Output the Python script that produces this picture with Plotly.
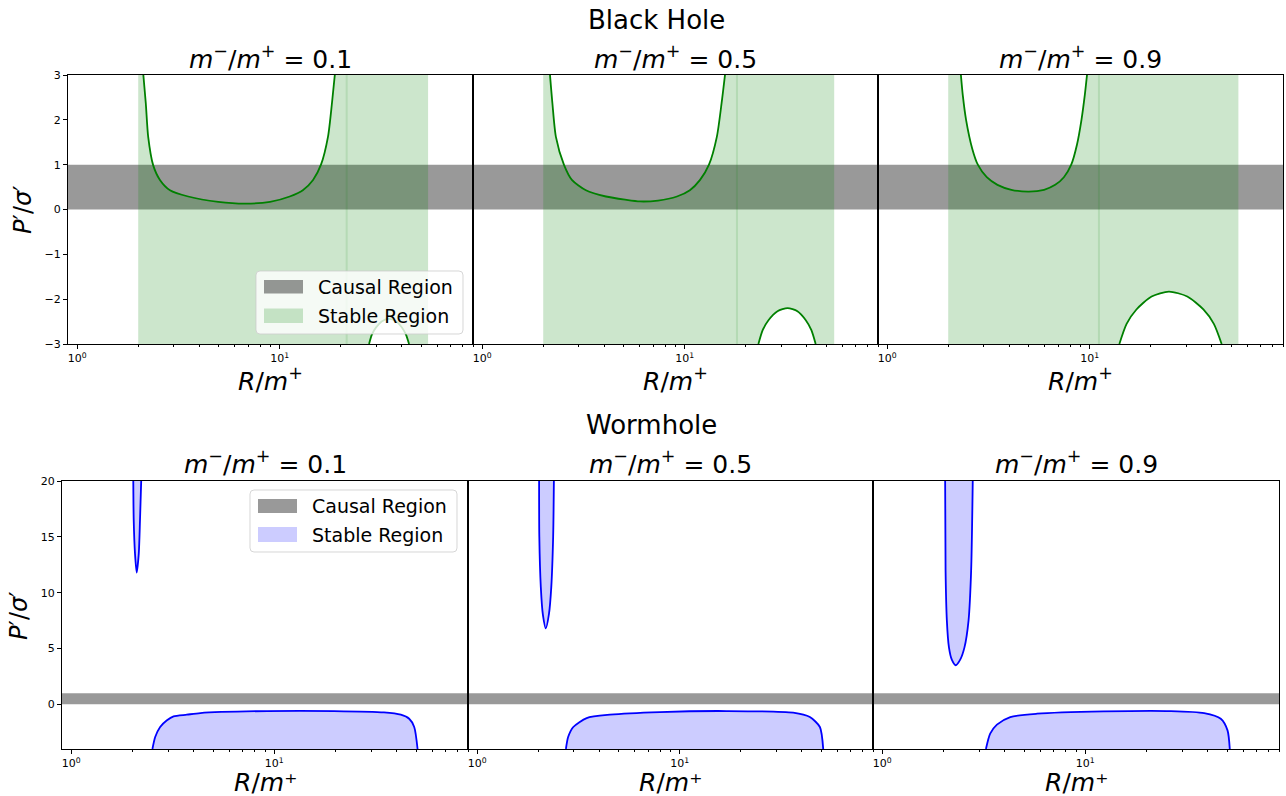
import math
import plotly.graph_objects as go
from plotly.subplots import make_subplots

W, H = 1286, 796
FONT = "DejaVu Sans"

# ---------------- data ----------------
RATIO_LABELS = ["0.1", "0.5", "0.9"]
R_RANGE = [0.9, 90.0]
BH_P_RANGE = [-3.0, 3.0]
WH_P_RANGE = [-4.0, 20.0]
CAUSAL_BAND = [0.0, 1.0]

MAJOR_TICKS = [1, 10]
MAJOR_TICKTEXT = ["10<sup>0</sup>", "10<sup>1</sup>"]
MINOR_TICKS = [2, 3, 4, 5, 6, 7, 8, 9, 20, 30, 40, 50, 60, 70, 80, 90]
BH_P_TICKS = [-3, -2, -1, 0, 1, 2, 3]
BH_P_TICKTEXT = ["\u22123", "\u22122", "\u22121", "0", "1", "2", "3"]
WH_P_TICKS = [0, 5, 10, 15, 20]
WH_P_TICKTEXT = ["0", "5", "10", "15", "20"]

# Black hole: upper (U-shaped) branch
bh01_upper_R = [2.12, 2.18, 2.24, 2.37, 2.56, 2.87, 3.53, 4.97, 6.73, 8.95, 11.2, 13.0, 14.6, 15.98, 17.3, 18.1, 18.7]
bh01_upper_P = [3.0, 2.37, 1.62, 0.99, 0.66, 0.43, 0.29, 0.17, 0.13, 0.17, 0.29, 0.43, 0.66, 1.0, 1.62, 2.37, 3.0]
bh05_upper_R = [2.16, 2.22, 2.31, 2.53, 2.77, 3.25, 4.08, 5.07, 6.01, 7.38, 9.15, 10.6, 11.9, 13.17, 14.4, 15.2, 15.8]
bh05_upper_P = [3.0, 2.37, 1.62, 1.0, 0.66, 0.43, 0.29, 0.22, 0.18, 0.20, 0.29, 0.43, 0.66, 1.0, 1.62, 2.37, 3.0]
bh09_upper_R = [2.31, 2.36, 2.45, 2.63, 2.80, 3.10, 3.50, 4.10, 5.00, 5.95, 6.75, 7.45, 8.10, 8.65, 9.10, 9.45, 9.69]
bh09_upper_P = [3.0, 2.55, 2.0, 1.35, 1.0, 0.72, 0.55, 0.44, 0.40, 0.44, 0.55, 0.72, 1.0, 1.45, 2.0, 2.55, 3.0]

# Black hole: lower (arch) branch
bh01_lower_R = [27.6, 28.5, 29.9, 32.0, 34.6, 37.5, 40.1, 42.0, 43.5]
bh01_lower_P = [-3.0, -2.79, -2.63, -2.49, -2.44, -2.49, -2.63, -2.79, -3.0]
bh05_lower_R = [23.1, 24.25, 25.9, 28.7, 32.2, 36.0, 39.6, 42.2, 44.3]
bh05_lower_P = [-3.0, -2.69, -2.47, -2.27, -2.20, -2.27, -2.47, -2.69, -3.0]
bh09_lower_R = [14.0, 15.2, 17.0, 20.2, 24.6, 30.3, 36.4, 41.0, 44.8]
bh09_lower_P = [-3.0, -2.55, -2.23, -1.94, -1.83, -1.94, -2.23, -2.55, -3.0]

# Black hole stable region bounds
bh_stable_start = [2.0, 2.0, 2.0]
bh_asymptote = [21.4, 18.1, 11.1]
bh_stable_end = [54.0, 54.7, 54.2]

# Wormhole: narrow spike branch
wh01_spike_R = [2.02, 2.03, 2.06, 2.10, 2.15, 2.18, 2.21]
wh01_spike_P = [20.0, 16.5, 13.5, 11.8, 13.5, 16.5, 20.0]
wh05_spike_R = [2.02, 2.025, 2.06, 2.11, 2.18, 2.26, 2.32, 2.37, 2.39]
wh05_spike_P = [20.0, 15.0, 10.5, 8.0, 6.8, 8.1, 10.5, 15.0, 20.0]
wh09_spike_R = [2.04, 2.05, 2.08, 2.13, 2.20, 2.30, 2.42, 2.54, 2.66, 2.74, 2.79]
wh09_spike_P = [20.0, 12.0, 7.5, 5.1, 4.0, 3.5, 4.0, 5.1, 7.5, 12.0, 20.0]

# Wormhole: plateau branch
wh01_plateau_R = [2.51, 2.59, 2.74, 2.96, 3.19, 3.71, 4.32, 9.23, 19.7, 34.7, 42.0, 46.2, 48.9, 50.8]
wh01_plateau_P = [-4.0, -2.93, -2.03, -1.43, -1.08, -0.93, -0.78, -0.60, -0.60, -0.72, -0.93, -1.29, -2.03, -4.0]
wh05_plateau_R = [2.74, 2.81, 2.98, 3.47, 4.52, 7.98, 17.0, 36.3, 43.9, 49.2, 51.1]
wh05_plateau_P = [-4.0, -2.93, -2.03, -1.23, -0.93, -0.69, -0.60, -0.75, -1.14, -2.03, -4.0]
wh09_plateau_R = [3.24, 3.40, 3.67, 4.27, 5.78, 12.3, 26.4, 38.5, 46.5, 50.2, 51.5]
wh09_plateau_P = [-4.0, -2.63, -1.82, -1.14, -0.84, -0.63, -0.60, -0.78, -1.29, -2.33, -4.0]

bh_upper = [(bh01_upper_R, bh01_upper_P), (bh05_upper_R, bh05_upper_P), (bh09_upper_R, bh09_upper_P)]
bh_lower = [(bh01_lower_R, bh01_lower_P), (bh05_lower_R, bh05_lower_P), (bh09_lower_R, bh09_lower_P)]
wh_spike = [(wh01_spike_R, wh01_spike_P), (wh05_spike_R, wh05_spike_P), (wh09_spike_R, wh09_spike_P)]
wh_plateau = [(wh01_plateau_R, wh01_plateau_P), (wh05_plateau_R, wh05_plateau_P), (wh09_plateau_R, wh09_plateau_P)]

# ---------------- style ----------------
CAUSAL_COLOR = "rgba(0,0,0,0.4)"
GREEN_FILL = "rgba(0,128,0,0.2)"
GREEN_LINE = "#008000"
BLUE_FILL = "rgba(0,0,255,0.2)"
BLUE_LINE = "#0000ff"

TOP_X = [(68, 473), (473, 878), (878, 1283)]
BOT_X = [(62, 468), (468, 873), (873, 1279)]
TOP_Y = (75, 344)
BOT_Y = (481, 749)


def fx(v):
    return v / W


def fy(v):
    return 1 - v / H


fig = make_subplots(rows=2, cols=3)

LINE = dict(width=1.8, shape="spline", smoothing=0.7)

# ---- Black hole row ----
for i in range(3):
    row, col = 1, i + 1
    fig.add_trace(go.Scatter(
        x=[R_RANGE[0], R_RANGE[1], R_RANGE[1], R_RANGE[0]],
        y=[CAUSAL_BAND[0], CAUSAL_BAND[0], CAUSAL_BAND[1], CAUSAL_BAND[1]],
        fill="toself", fillcolor=CAUSAL_COLOR, mode="none", showlegend=False,
        hoverinfo="skip"), row=row, col=col)
    uR, uP = bh_upper[i]
    lR, lP = bh_lower[i]
    ymin, ymax = BH_P_RANGE
    # stable region: below the upper branch, left of the asymptote
    fig.add_trace(go.Scatter(
        x=[bh_stable_start[i], bh_stable_start[i]] + uR + [bh_asymptote[i], bh_asymptote[i]],
        y=[ymin, ymax] + uP + [ymax, ymin],
        fill="toself", fillcolor=GREEN_FILL, mode="none", showlegend=False,
        hoverinfo="skip"), row=row, col=col)
    # stable region: above the lower branch, right of the asymptote
    fig.add_trace(go.Scatter(
        x=[bh_asymptote[i], bh_asymptote[i]] + lR + [bh_stable_end[i], bh_stable_end[i]],
        y=[ymax, ymin] + lP + [ymin, ymax],
        fill="toself", fillcolor=GREEN_FILL, mode="none", showlegend=False,
        hoverinfo="skip"), row=row, col=col)
    # faint overlap seam at the asymptote
    fig.add_trace(go.Scatter(
        x=[bh_asymptote[i], bh_asymptote[i]], y=[ymin, ymax], mode="lines",
        line=dict(color="rgba(0,128,0,0.12)", width=2), showlegend=False,
        hoverinfo="skip"), row=row, col=col)
    fig.add_trace(go.Scatter(x=uR, y=uP, mode="lines", line=dict(color=GREEN_LINE, **LINE),
                             showlegend=False), row=row, col=col)
    fig.add_trace(go.Scatter(x=lR, y=lP, mode="lines", line=dict(color=GREEN_LINE, **LINE),
                             showlegend=False), row=row, col=col)

# ---- Wormhole row ----
for i in range(3):
    row, col = 2, i + 1
    fig.add_trace(go.Scatter(
        x=[R_RANGE[0], R_RANGE[1], R_RANGE[1], R_RANGE[0]],
        y=[CAUSAL_BAND[0], CAUSAL_BAND[0], CAUSAL_BAND[1], CAUSAL_BAND[1]],
        fill="toself", fillcolor=CAUSAL_COLOR, mode="none", showlegend=False,
        hoverinfo="skip"), row=row, col=col)
    sR, sP = wh_spike[i]
    pR, pP = wh_plateau[i]
    fig.add_trace(go.Scatter(x=sR, y=sP, mode="lines", fill="toself", fillcolor=BLUE_FILL,
                             line=dict(color=BLUE_LINE, **LINE), showlegend=False), row=row, col=col)
    fig.add_trace(go.Scatter(x=pR, y=pP, mode="lines", fill="toself", fillcolor=BLUE_FILL,
                             line=dict(color=BLUE_LINE, **LINE), showlegend=False), row=row, col=col)

# ---- axes ----
axis_common = dict(showline=True, linecolor="black", linewidth=1, mirror=True,
                   showgrid=False, zeroline=False, automargin=False)
log_range = [math.log10(R_RANGE[0]), math.log10(R_RANGE[1])]

for i in range(6):
    n = i + 1
    xa = "xaxis" if n == 1 else f"xaxis{n}"
    ya = "yaxis" if n == 1 else f"yaxis{n}"
    top = i < 3
    c = i % 3
    xd = TOP_X[c] if top else BOT_X[c]
    yd = TOP_Y if top else BOT_Y
    fig.layout[xa].update(
        domain=[fx(xd[0]), fx(xd[1])], type="log", range=log_range,
        tickmode="array", tickvals=MAJOR_TICKS, ticktext=MAJOR_TICKTEXT,
        ticks="outside", ticklen=4, tickwidth=1, tickcolor="black",
        tickfont=dict(size=11, family=FONT, color="black"),
        minor=dict(tickmode="array", tickvals=MINOR_TICKS, ticks="outside",
                   ticklen=2, tickwidth=0.8, tickcolor="black", showgrid=False),
        **axis_common)
    yr = BH_P_RANGE if top else WH_P_RANGE
    ytv = BH_P_TICKS if top else WH_P_TICKS
    ytt = BH_P_TICKTEXT if top else WH_P_TICKTEXT
    if c == 0:
        fig.layout[ya].update(
            domain=[fy(yd[1]), fy(yd[0])], range=yr, tickmode="array",
            tickvals=ytv, ticktext=ytt, ticks="outside", ticklen=4, tickwidth=1,
            tickcolor="black", tickfont=dict(size=11, family=FONT, color="black"),
            **axis_common)
    else:
        fig.layout[ya].update(
            domain=[fy(yd[1]), fy(yd[0])], range=yr, showticklabels=False, ticks="",
            **axis_common)


# ---- text ----
def add_text(text, x, y, size, angle=0, xanchor="center", yanchor="middle"):
    fig.add_annotation(text=text, x=fx(x), y=fy(y), xref="paper", yref="paper",
                       showarrow=False, textangle=angle, xanchor=xanchor, yanchor=yanchor,
                       borderpad=0, font=dict(size=size, family=FONT, color="black"))


add_text("Black Hole", 656, 20, 26)
add_text("Wormhole", 651, 425, 26)

XLABEL_TOP = "<i>R</i>/<i>m</i><sup>+</sup>"
XLABEL_BOT = "<i>R</i>/<i>m</i>\u207a"
for c in range(3):
    title = f"<i>m</i><sup>\u2212</sup>/<i>m</i><sup>+</sup> = {RATIO_LABELS[c]}"
    tx = (TOP_X[c][0] + TOP_X[c][1]) / 2
    bx = (BOT_X[c][0] + BOT_X[c][1]) / 2
    add_text(title, tx, 57, 25)
    add_text(title, bx, 462, 25)
    add_text(XLABEL_TOP, tx, 379, 25)
    add_text(XLABEL_BOT, bx, 782, 25)

add_text("<i>P</i>\u2032/<i>\u03c3</i>\u2032", 23, 210, 24, angle=-90)
add_text("<i>P</i>\u2032/<i>\u03c3</i>\u2032", 19, 616, 24, angle=-90)


# ---- legends (drawn as shapes + text) ----
def rounded_path(x0, y0, x1, y1, r):
    return (f"M {fx(x0 + r)},{fy(y0)} L {fx(x1 - r)},{fy(y0)} Q {fx(x1)},{fy(y0)} {fx(x1)},{fy(y0 + r)} "
            f"L {fx(x1)},{fy(y1 - r)} Q {fx(x1)},{fy(y1)} {fx(x1 - r)},{fy(y1)} "
            f"L {fx(x0 + r)},{fy(y1)} Q {fx(x0)},{fy(y1)} {fx(x0)},{fy(y1 - r)} "
            f"L {fx(x0)},{fy(y0 + r)} Q {fx(x0)},{fy(y0)} {fx(x0 + r)},{fy(y0)} Z")


def add_legend(box, entries):
    x0, y0, x1, y1 = box
    fig.add_shape(type="path", path=rounded_path(x0, y0, x1, y1, 4), xref="paper", yref="paper",
                  fillcolor="rgba(255,255,255,0.8)", line=dict(color="rgba(204,204,204,0.8)", width=1),
                  layer="above")
    for (sx0, sy0, sx1, sy1, color, label, tx) in entries:
        fig.add_shape(type="rect", x0=fx(sx0), x1=fx(sx1), y0=fy(sy1), y1=fy(sy0),
                      xref="paper", yref="paper", fillcolor=color, line=dict(width=0), layer="above")
        add_text(label, tx, (sy0 + sy1) / 2, 19, xanchor="left")


add_legend((256, 271, 463, 334), [
    (264, 280, 303, 293.5, CAUSAL_COLOR, "Causal Region", 317),
    (264, 308.5, 303, 323, GREEN_FILL, "Stable Region", 317),
])
add_legend((250, 490, 457, 552), [
    (258, 499, 297, 513, CAUSAL_COLOR, "Causal Region", 311),
    (258, 527, 297, 542, BLUE_FILL, "Stable Region", 311),
])

fig.update_layout(width=W, height=H, autosize=False, margin=dict(l=0, r=0, t=0, b=0, pad=0),
                  paper_bgcolor="white", plot_bgcolor="white",
                  font=dict(family=FONT, color="black"), showlegend=False)

fig.write_html("out.html")
